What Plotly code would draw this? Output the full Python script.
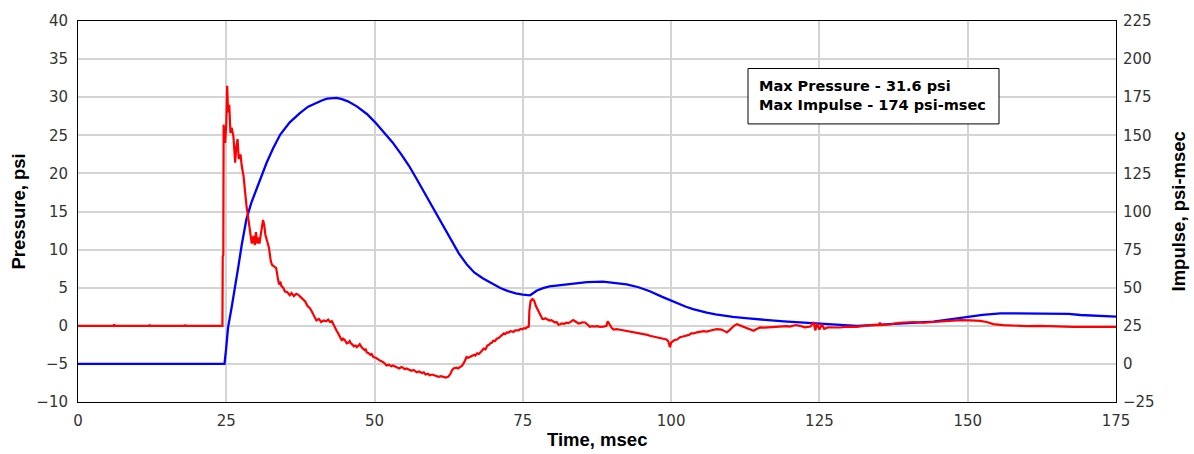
import plotly.graph_objects as go

# ---- data ----
time_p = [0, 3, 6, 6.1, 6.2, 9, 12, 12.1, 12.2, 15, 18, 18.1, 18.2, 21, 24.35,
          24.4, 24.5, 24.55, 24.8, 25.0, 25.15, 25.3, 25.5, 25.7, 25.9, 26.2, 26.5, 26.7, 26.9,
          27.1, 27.4, 27.6, 27.9, 28.4, 29.0, 29.3, 29.6, 29.8, 30.0, 30.2, 30.4, 30.6, 30.8,
          31.0, 31.2, 31.4, 31.6, 32.0, 32.2, 32.5, 32.7, 33.2, 33.4, 33.7, 33.9, 34.1, 34.3,
          34.6, 34.9, 35.3, 35.7, 36.0, 36.4, 36.8, 37.1, 37.5, 38.0, 38.3, 38.7, 39.1, 39.4,
          39.8, 40.2, 40.6, 41.0, 41.4, 41.8, 42.2, 42.5, 42.8, 43.2,
          43.6, 43.8, 44.0, 44.2, 44.5, 44.7, 45.0, 45.3, 45.6, 45.8, 46.0, 46.3, 46.5, 46.8,
          47.0, 47.3, 47.5, 47.8, 48.0, 48.3, 48.5, 48.7, 49.0, 49.3, 49.5, 49.8, 50.2, 50.5,
          50.8, 51.0, 51.3, 51.5, 51.8, 52.0, 52.4, 52.8, 53.1, 53.5, 53.9, 54.2, 54.5, 54.8,
          55.1, 55.4, 55.8, 56.2, 56.6, 57.1, 57.5, 58.0, 58.3, 58.6, 59.0, 59.3, 59.7, 60.0,
          60.4, 60.8, 61.2, 61.6, 62.0, 62.4, 62.8, 63.0, 63.3, 63.8, 64.1, 64.4, 64.7, 65.1,
          65.3, 65.5, 65.8, 66.1, 66.5, 66.8, 67.0, 67.3, 67.6, 67.8, 68.1, 68.4, 68.7, 69.0,
          69.3, 69.5, 69.8, 70.0, 70.3, 70.6, 70.9, 71.2, 71.5, 71.8, 72.0, 72.3, 72.6, 72.9,
          73.2, 73.4, 73.7, 74.0, 74.3, 74.6, 74.9, 75.2, 75.5, 75.7, 76.0, 76.1,
          76.3, 76.6, 76.9, 77.2, 77.6,
          78.0, 78.3, 78.5, 78.8, 79.0, 79.3, 79.5, 79.8, 80.0, 80.4, 80.7, 81.0, 81.3, 81.6,
          82.0, 82.3, 82.7, 83.0, 83.3, 83.5, 83.8, 84.0, 84.4, 84.7, 85.0, 85.5, 85.9, 86.3,
          86.7, 87.0, 87.5, 88.0, 88.6, 89.1, 89.3, 89.5, 90.0, 90.3, 90.8, 91.4, 92.0, 92.5,
          93.0, 93.6, 94.2, 94.8, 95.4, 96.0, 96.4, 97.0, 97.5, 98.0, 98.7, 99.2, 99.5, 99.8,
          100.0, 100.5, 101.0, 101.5, 102.0, 102.5, 103.0, 103.4, 103.8, 104.3, 104.8, 105.5,
          106.0, 106.5, 107.0, 107.7, 108.2, 108.5, 109.0, 109.4, 109.8, 110.2, 110.6, 111.1,
          111.5, 112.0, 112.5, 113.2, 113.9, 114.5, 115.0, 115.7, 116.5, 117.2, 118.0, 118.9,
          119.5, 120.0, 120.5, 121.0, 121.7, 122.5, 123.5, 124.0, 124.3,
          124.6, 125.0, 125.4, 125.8, 126.5, 127.4, 128.5, 129.5, 130.5, 131.3, 132.5, 134.1,
          135.0, 135.2, 135.4, 137.0, 138.5, 139.7, 141.0, 142.5, 144.0, 145.3, 147.0, 148.7,
          150.5, 152.1, 153.2, 154.3, 156.0, 157.7, 160.0, 162.2, 165.0, 167.8, 170.0, 172.5,
          175.0]
pressure = [0, 0, 0, 0.2, 0, 0, 0, 0.15, 0, 0, 0, 0.15, 0, 0, 0,
            9.1, 9.3, 26.4, 24.0, 26.5, 31.5, 28.0, 29.0, 25.3, 26.0, 24.9, 21.4, 23.5, 24.5,
            21.9, 22.5, 21.0, 19.7, 15.8, 12.3, 10.8, 11.8, 10.6, 12.3, 10.8, 11.6, 10.8, 11.9,
            13.0, 13.9, 13.2, 11.9, 10.8, 10.2, 8.5, 8.0, 7.7, 7.6, 6.2, 5.4, 5.8, 5.2,
            5.0, 4.5, 4.4, 4.0, 4.3, 3.9, 4.2, 4.1, 3.8, 3.4, 3.2, 2.6, 2.3, 1.9,
            1.3, 0.7, 0.9, 0.5, 0.7, 0.6, 0.8, 0.5, 0.6, -0.1,
            -0.65, -0.9, -1.2, -1.6, -1.95, -1.7, -1.9, -2.3, -2.2, -2.0, -2.3, -2.5, -2.7, -2.6,
            -2.8, -2.6, -2.4, -2.8, -3.0, -3.2, -3.1, -3.5, -3.6, -3.8, -3.7, -4.1, -4.2, -4.3,
            -4.5, -4.6, -4.7, -4.8, -5.0, -5.2, -5.1, -5.3, -5.2, -5.4, -5.5, -5.6, -5.4, -5.5,
            -5.7, -5.6, -5.7, -5.9, -5.8, -6.1, -6.0, -6.2, -6.1, -6.4, -6.3, -6.5, -6.4, -6.5,
            -6.6, -6.7, -6.6, -6.7, -6.8, -6.7, -6.3, -5.9, -5.6, -5.5, -5.6, -5.4, -5.3, -4.8,
            -4.4, -4.1, -4.2, -4.1, -4.0, -3.8, -3.9, -3.6, -3.7, -3.5, -3.3, -3.0, -3.1, -2.6,
            -2.5, -2.3, -2.2, -1.95, -2.0, -1.7, -1.6, -1.4, -1.3, -1.0, -1.1, -0.87, -0.9, -0.7,
            -0.75, -0.8, -0.6, -0.56, -0.6, -0.4, -0.45, -0.3, -0.35, -0.2, -0.13, 2.0,
            3.25, 3.5, 3.3, 2.6, 1.95,
            1.2, 0.9, 0.87, 1.0, 0.9, 0.8, 0.7, 0.75, 0.6, 0.43, 0.5, 0.13, 0.2, 0.3,
            0.25, 0.4, 0.35, 0.5, 0.6, 0.74, 0.6, 0.5, 0.3, 0.35, 0.45, 0.43, 0.1, -0.13,
            -0.05, -0.1, -0.05, -0.13, -0.1, 0.0, 0.6, 0.3, -0.3, -0.5, -0.45, -0.52, -0.6, -0.7,
            -0.75, -0.87, -0.95, -1.0, -1.15, -1.2, -1.3, -1.4, -1.5, -1.6, -1.73, -1.8, -2.0, -2.8,
            -2.2, -1.9, -1.8, -1.5, -1.4, -1.3, -1.2, -1.0, -1.0, -0.87, -0.8, -0.7,
            -0.75, -0.6, -0.55, -0.43, -0.45, -0.5, -0.7, -0.87, -0.6, -0.3, 0.0, 0.22,
            0.1, -0.1, -0.3, -0.5, -0.65, -0.4, -0.22, -0.25, -0.2, -0.15, -0.1, 0.0,
            -0.05, -0.1, 0.0, 0.1, 0.0, -0.2, -0.1, 0.5, -0.6,
            0.3, -0.5, 0.2, -0.4, -0.2, -0.22, -0.22, -0.1, -0.15, -0.13, 0.0, 0.13,
            0.1, 0.4, 0.1, 0.2, 0.4, 0.43, 0.5, 0.4, 0.5, 0.5, 0.7, 0.74,
            0.7, 0.65, 0.5, 0.22, 0.1, 0.0, -0.05, 0.0, -0.1, -0.13, -0.15, -0.1,
            -0.13]

time_i = [0, 24.7, 25.0, 25.3, 25.9, 26.5, 27.0, 27.6, 28.4, 29.2, 30.1, 31.0, 31.8, 32.9,
          34.1, 35.7, 37.4, 38.8, 40.2, 41.2, 42.0, 43.0, 43.6, 44.5, 45.5, 47.0,
          48.7, 50.1, 51.5, 53.0, 54.5, 55.8, 57.0, 58.3, 59.3, 61.0, 62.7, 64.2, 65.6, 66.8,
          68.3, 69.8, 71.2, 72.5, 73.8, 75.0, 76.2, 76.6, 77.3, 78.4, 79.5, 81.0, 83.5, 85.8,
          88.5, 90.9, 92.5, 94.5, 96.4, 98.5, 100.3, 101.5, 102.5, 103.7, 104.9, 106.0, 107.5,
          109.0, 110.4, 113.0, 116.0, 119.0, 121.7, 125.1, 127.4, 131.3, 134.0, 137.5, 141.0,
          144.2, 147.0, 149.8, 152.5, 155.5, 160.0, 165.6, 167.0, 169.0, 172.0, 175.0]
impulse = [0, 0, 11, 24, 37, 50, 63, 78, 95, 105.5, 115, 124, 132, 141.5,
           150.5, 158.5, 164.6, 168.8, 171.5, 173, 174, 174.5, 174.5, 173.7, 172.3, 169,
           164, 158.5, 152.5, 145.5, 137.5, 130, 122, 113, 106, 94, 82, 72.5, 65, 60,
           56, 52.5, 49.8, 47.8, 46.3, 45.5, 45, 46, 48, 49.7, 50.8, 51.5, 52.8, 53.6,
           54, 53, 52.2, 50.3, 47.7, 44, 41, 39, 37.5, 36, 34.7, 33.6, 32.5,
           31.6, 30.8, 29.8, 28.7, 27.9, 27.2, 26.5, 25.6, 25.0, 25.4, 26.1, 26.8,
           27.8, 29.2, 30.8, 32.2, 33.2, 33.2, 33.2, 32.8, 32.1, 31.5, 31.0]

x_ticks = [0, 25, 50, 75, 100, 125, 150, 175]
p_ticks = [-10, -5, 0, 5, 10, 15, 20, 25, 30, 35, 40]
i_ticks = [-25, 0, 25, 50, 75, 100, 125, 150, 175, 200, 225]
box_lines = ["Max Pressure - 31.6 psi", "Max Impulse - 174 psi-msec"]

# ---- figure ----
W, H = 1194, 454
L, R, T, B = 78, 78, 17, 52
pw, ph = W - L - R, H - T - B


def px(xp):
    return (xp - L) / pw


def py(yp):
    return (H - B - yp) / ph


tick_font = dict(family="DejaVu Sans", size=15, color="#333333")
title_font = dict(family="Liberation Sans", size=18.5, color="black")

fig = go.Figure()
fig.add_trace(go.Scatter(x=time_i, y=impulse, mode="lines", yaxis="y",
                         line=dict(color="#0000ff", width=2.3), showlegend=False))
fig.add_trace(go.Scatter(x=time_p, y=pressure, mode="lines", yaxis="y2",
                         line=dict(color="#ff0000", width=2.2), showlegend=False))

grid = "#d4d4d4"
fig.update_layout(
    width=W, height=H, autosize=False,
    margin=dict(l=L, r=R, t=T, b=B, pad=0),
    paper_bgcolor="white", plot_bgcolor="white",
    xaxis=dict(range=[0, 175], tickvals=x_ticks, showgrid=True, gridcolor=grid, gridwidth=1.5,
               zeroline=False, showline=True, mirror=True, linecolor="black", linewidth=1,
               ticks="", tickfont=tick_font, ticklabelstandoff=5),
    yaxis=dict(range=[-25, 225], tickvals=i_ticks, side="right", showgrid=True,
               gridcolor=grid, gridwidth=1.5, zeroline=False, showline=True,
               linecolor="black", linewidth=1, ticks="", tickfont=tick_font,
               ticklabelstandoff=3),
    yaxis2=dict(range=[-10, 40], tickvals=p_ticks, side="left", overlaying="y",
                showgrid=False, zeroline=False, showline=True, linecolor="black",
                linewidth=1, ticks="", tickfont=tick_font, ticklabelstandoff=6),
    shapes=[dict(type="rect", xref="paper", yref="paper",
                 x0=px(748), x1=px(999), y0=py(121), y1=py(65),
                 line=dict(color="black", width=1), fillcolor="white", layer="above")],
    annotations=[
        dict(text="<b>Pressure, psi</b>", xref="paper", yref="paper", x=px(18), y=py(209.5),
             textangle=-90, showarrow=False, font=title_font, xanchor="center", yanchor="middle"),
        dict(text="<b>Impulse, psi-msec</b>", xref="paper", yref="paper", x=px(1178.5),
             y=py(210), textangle=-90, showarrow=False, font=title_font,
             xanchor="center", yanchor="middle"),
        dict(text="<b>Time, msec</b>", xref="paper", yref="paper", x=px(597), y=py(440),
             showarrow=False, font=title_font, xanchor="center", yanchor="middle"),
        dict(text="<b>" + "<br>".join(box_lines) + "</b>", xref="paper", yref="paper",
             x=px(757), y=py(92.5), showarrow=False, align="left", xanchor="left",
             yanchor="middle", font=dict(family="DejaVu Sans", size=14.5, color="black")),
    ],
)

fig.write_html("out.html")
